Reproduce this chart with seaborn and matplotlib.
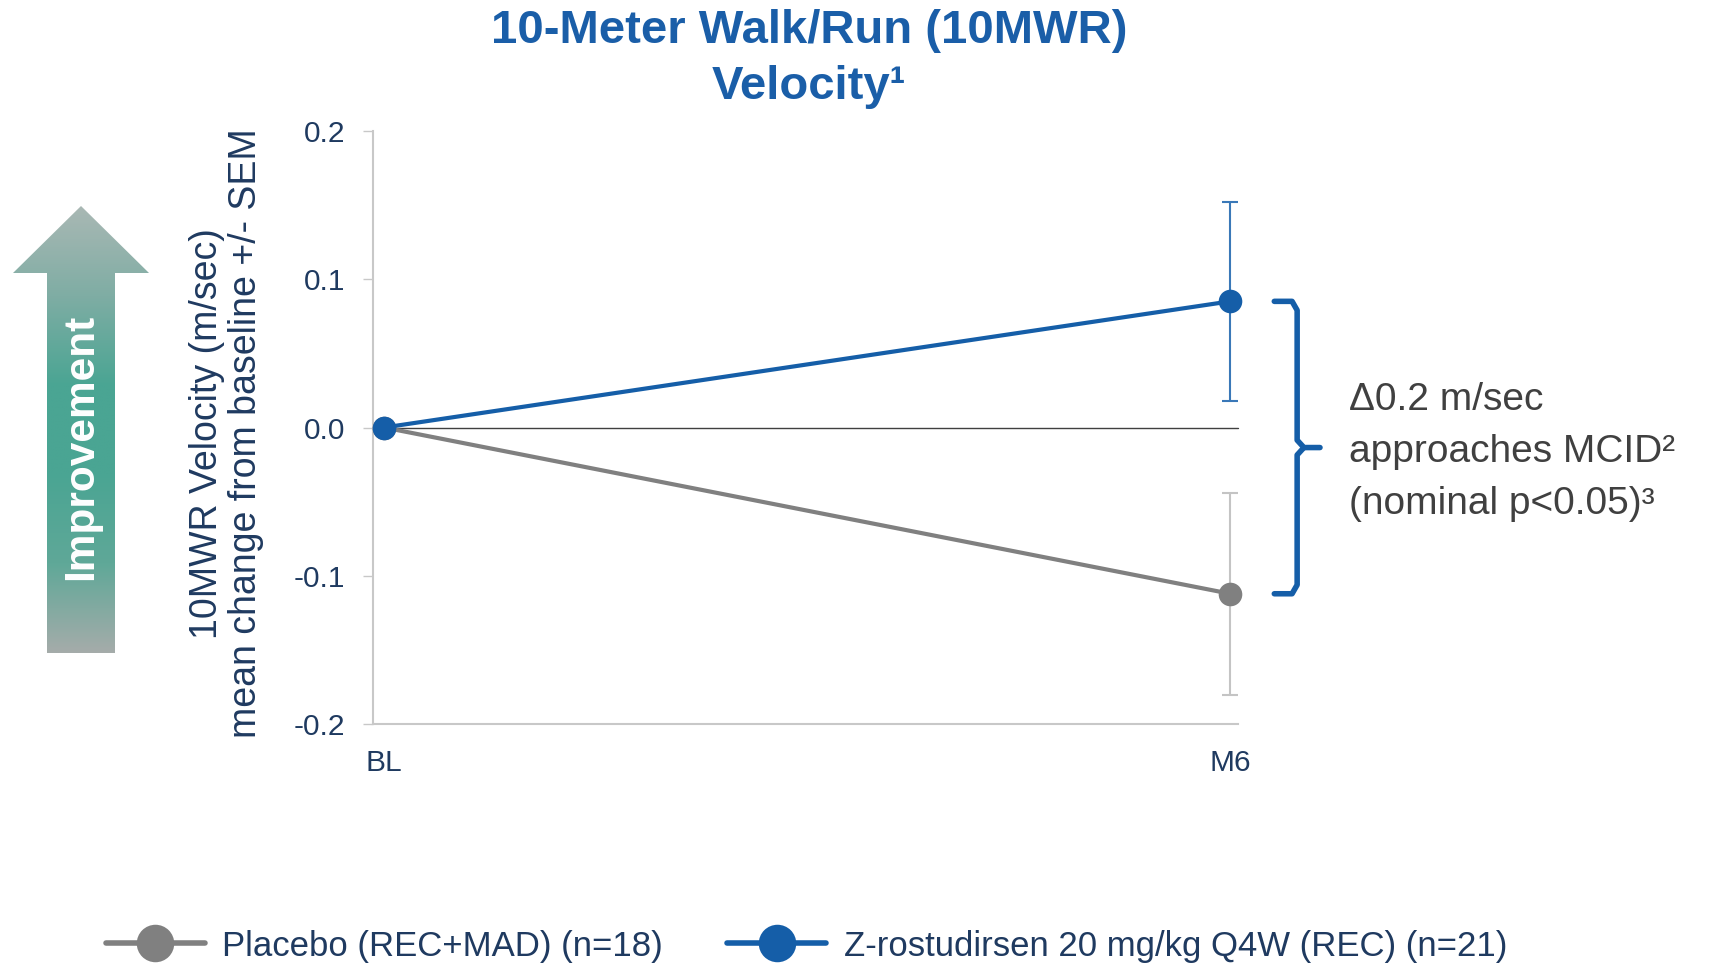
import matplotlib.pyplot as plt
import numpy as np
import pandas as pd
import seaborn as sns
from matplotlib.colors import LinearSegmentedColormap
from matplotlib.patches import Polygon

# ---- data ----
visits = ["BL", "M6"]
groups = ["Placebo (REC+MAD) (n=18)", "Z-rostudirsen 20 mg/kg Q4W (REC) (n=21)"]
placebo_mean = [0.0, -0.112]
placebo_sem = [0.0, 0.068]
zros_mean = [0.0, 0.085]
zros_sem = [0.0, 0.067]
y_ticks = [-0.2, -0.1, 0.0, 0.1, 0.2]
y_tick_labels = ["-0.2", "-0.1", "0.0", "0.1", "0.2"]

BLUE = "#155ea8"
BLUE_ERR = "#3a78b8"
GRAY = "#808080"
GRAY_ERR = "#c4c4c4"
NAVY = "#1f3a60"
TITLE_BLUE = "#1a5ea8"

df = pd.DataFrame({
    "visit": visits * 2,
    "group": [groups[0]] * 2 + [groups[1]] * 2,
    "mean": placebo_mean + zros_mean,
    "sem": placebo_sem + zros_sem,
})
df["pos"] = df["visit"].map({v: i for i, v in enumerate(visits)})

sns.set_theme(style="white")
plt.rcParams["font.family"] = ["Liberation Sans", "DejaVu Sans"]

fig = plt.figure(figsize=(17.21, 9.67), dpi=100)
ax = fig.add_axes([0.2167, 0.2509, 0.5026, 0.614])

sns.lineplot(data=df, x="pos", y="mean", hue="group", hue_order=groups,
             palette=[GRAY, BLUE], marker="o", markersize=17, markeredgewidth=0,
             linewidth=3, errorbar=None, ax=ax, zorder=3)

# error bars (only where SEM > 0)
for grp, ecol in zip(groups, [GRAY_ERR, BLUE_ERR]):
    sub = df[(df["group"] == grp) & (df["sem"] > 0)]
    ax.errorbar(sub["pos"], sub["mean"], yerr=sub["sem"], fmt="none",
                ecolor=ecol, elinewidth=1.5, capsize=6, capthick=1.5, zorder=1.5)

ax.axhline(0, color="#404040", lw=1, zorder=1)

# markers sit on the axis edge, don't clip them
for art in ax.lines + ax.collections:
    art.set_clip_on(False)

ax.set_xlim(-0.0132, 1.009)
ax.set_ylim(-0.2, 0.2)
ax.set_xticks(range(len(visits)))
ax.set_xticklabels(visits)
ax.set_yticks(y_ticks)
ax.set_yticklabels(y_tick_labels)
ax.set_xlabel("")

for side in ["top", "right"]:
    ax.spines[side].set_visible(False)
for side in ["left", "bottom"]:
    ax.spines[side].set_color("#c8c8c8")
    ax.spines[side].set_linewidth(1.5)

ax.tick_params(axis="y", length=7, width=1, color="#c8c8c8", pad=13,
               labelsize=21.5, labelcolor=NAVY, left=True)
ax.tick_params(axis="x", length=0, pad=18, labelsize=21.5, labelcolor=NAVY)

ax.set_ylabel("10MWR Velocity (m/sec)\nmean change from baseline +/- SEM",
              fontsize=27, color=NAVY, linespacing=1.12)
ax.yaxis.label.set_verticalalignment("center")
ax.yaxis.set_label_coords(-0.169, 0.49)

# brace between the two M6 means
top = zros_mean[-1]
bot = placebo_mean[-1]
mid = (top + bot) / 2
xb, x0, xn = 1.079, 1.052, 1.106
ax.plot([x0, xb - 0.006, xb, xb, xb + 0.008, xn],
        [top, top, top - 0.006, mid + 0.005, mid, mid],
        color=BLUE, lw=4, clip_on=False, solid_joinstyle="round")
ax.plot([x0, xb - 0.006, xb, xb, xb + 0.008],
        [bot, bot, bot + 0.006, mid - 0.005, mid],
        color=BLUE, lw=4, clip_on=False, solid_joinstyle="round")
ax.text(1.14, mid - 0.003,
        "\u03940.2 m/sec\napproaches MCID\u00b2\n(nominal p<0.05)\u00b3",
        ha="left", va="center", fontsize=28, color="#404040",
        linespacing=1.57, clip_on=False)

# legend at bottom
handles, labels = ax.get_legend_handles_labels()
if ax.legend_:
    ax.legend_.remove()
leg = fig.legend(handles, labels, loc="center left",
                 bbox_to_anchor=(0.0616, 0.0217), ncol=2, frameon=False,
                 fontsize=25, handlelength=2.85, handletextpad=0.5,
                 columnspacing=1.85, borderpad=0, borderaxespad=0)
for t in leg.get_texts():
    t.set_color(NAVY)
for h in leg.legend_handles:
    h.set_markersize(27)
    h.set_linewidth(4)

# title
fig.text(0.47, 1 - 59 / 967, "10-Meter Walk/Run (10MWR)\nVelocity\u00b9",
         ha="center", va="center", fontsize=34, fontweight="bold",
         color=TITLE_BLUE, linespacing=1.38)

# "Improvement" gradient arrow (pixel coordinates overlay)
ov = fig.add_axes([0, 0, 1, 1])
ov.set_xlim(0, 1721)
ov.set_ylim(967, 0)
ov.axis("off")
arrow = Polygon([(47, 653), (47, 273), (13, 273), (81, 206), (149, 273),
                 (115, 273), (115, 653)], closed=True, facecolor="none",
                edgecolor="none")
ov.add_patch(arrow)
cmap = LinearSegmentedColormap.from_list(
    "impr", ["#a5acaa", "#5fa898", "#4aa593", "#4aa593", "#7fada4", "#a9b8b4"])
grad = np.linspace(0, 1, 256).reshape(-1, 1)
img = ov.imshow(grad, cmap=cmap, extent=(13, 149, 653, 206), origin="lower",
                aspect="auto", interpolation="bilinear")
img.set_clip_path(arrow)
ov.set_xlim(0, 1721)
ov.set_ylim(967, 0)
ov.text(81, 447, "Improvement", rotation=90, ha="center", va="center",
        fontsize=30.5, fontweight="bold", color="white")

fig.savefig("out.png", dpi=100)
